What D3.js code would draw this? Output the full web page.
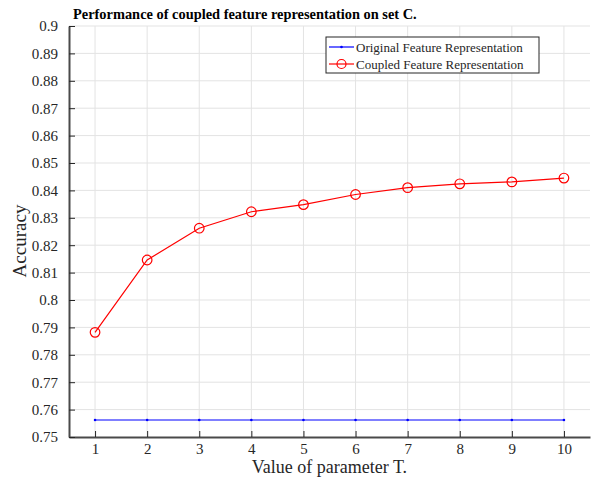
<!DOCTYPE html>
<html>
<head>
<meta charset="utf-8">
<script src="https://cdn.jsdelivr.net/npm/d3@7"></script>
<style>
  body { margin: 0; background: #fff; }
  svg text { font-family: "Liberation Serif", "DejaVu Serif", serif; }
</style>
</head>
<body>
<div id="chart"></div>
<script>
// data
const tValues = [1, 2, 3, 4, 5, 6, 7, 8, 9, 10];
const originalAcc = [0.7562, 0.7562, 0.7562, 0.7562, 0.7562, 0.7562, 0.7562, 0.7562, 0.7562, 0.7562];
const coupledAcc = [0.7882, 0.8146, 0.8262, 0.8322, 0.8348, 0.8385, 0.8410, 0.8424, 0.8431, 0.8445];
const yTicks = d3.range(0.75, 0.9001, 0.01);
const seriesNames = ["Original Feature Representation", "Coupled Feature Representation"];

const W = 600, H = 477;
const svg = d3.select("#chart").append("svg").attr("width", W).attr("height", H);
const FONT = "Liberation Serif";

const x = d3.scaleLinear().domain([0.5, 10.5]).range([69, 590]);
const y = d3.scaleLinear().domain([0.75, 0.9]).range([437, 26]);

// grid
svg.append("g").selectAll("line").data(tValues).join("line")
  .attr("x1", d => x(d)).attr("x2", d => x(d)).attr("y1", y(0.75)).attr("y2", y(0.9))
  .attr("stroke", "#e3e3e3").attr("stroke-width", 1);
svg.append("g").selectAll("line").data(yTicks.slice(1)).join("line")
  .attr("x1", x(0.5)).attr("x2", x(10.5)).attr("y1", d => y(d)).attr("y2", d => y(d))
  .attr("stroke", "#e3e3e3").attr("stroke-width", 1);

// axes (ticks point inward)
const xAxis = svg.append("g").attr("transform", `translate(0,${y(0.75)})`)
  .call(d3.axisBottom(x).tickValues(tValues).tickSizeInner(-6).tickSizeOuter(0).tickPadding(6));
const yAxis = svg.append("g").attr("transform", `translate(${x(0.5)},0)`)
  .call(d3.axisLeft(y).tickValues(yTicks).tickFormat(d => d3.format(".2~f")(d)).tickSizeInner(-6).tickSizeOuter(0).tickPadding(11));
[xAxis, yAxis].forEach(a => {
  a.select(".domain").attr("stroke", "#4a4a4a").attr("stroke-width", 2);
  a.selectAll(".tick line").attr("stroke", "#262626");
  a.selectAll("text").attr("fill", "#262626").attr("font-size", 15).attr("font-family", FONT);
});

// series
const line = d3.line().x((d, i) => x(tValues[i])).y(d => y(d));
svg.append("path").datum(originalAcc).attr("d", line)
  .attr("fill", "none").attr("stroke", "#0000ff").attr("stroke-width", 1.2);
svg.append("g").selectAll("circle").data(originalAcc).join("circle")
  .attr("cx", (d, i) => x(tValues[i])).attr("cy", d => y(d)).attr("r", 1.3).attr("fill", "#0000ff");

svg.append("path").datum(coupledAcc).attr("d", line)
  .attr("fill", "none").attr("stroke", "#ff0000").attr("stroke-width", 1.2);
svg.append("g").selectAll("circle").data(coupledAcc).join("circle")
  .attr("cx", (d, i) => x(tValues[i])).attr("cy", d => y(d)).attr("r", 4.8)
  .attr("fill", "none").attr("stroke", "#ff0000").attr("stroke-width", 1.2);

// title and axis labels
svg.append("text").attr("x", 73).attr("y", 19).attr("font-weight", "bold").attr("font-size", 14.4)
  .attr("font-family", FONT).attr("fill", "#000").text("Performance of coupled feature representation on set C.");
svg.append("text").attr("x", (x(0.5) + x(10.5)) / 2).attr("y", 473).attr("text-anchor", "middle")
  .attr("font-size", 18).attr("font-family", FONT).attr("fill", "#262626").text("Value of parameter T.");
svg.append("text").attr("transform", `translate(26,${241}) rotate(-90)`).attr("text-anchor", "middle")
  .attr("font-size", 19).attr("font-family", FONT).attr("fill", "#262626").text("Accuracy");

// legend
const lg = svg.append("g").attr("transform", "translate(326,37)");
lg.append("rect").attr("width", 213).attr("height", 36).attr("fill", "#fff").attr("stroke", "#262626").attr("stroke-width", 1);
const colors = ["#0000ff", "#ff0000"];
seriesNames.forEach((name, i) => {
  const yy = 10 + i * 17;
  lg.append("line").attr("x1", 3).attr("x2", 28).attr("y1", yy).attr("y2", yy)
    .attr("stroke", colors[i]).attr("stroke-width", 1.2);
  if (i === 0) {
    lg.append("circle").attr("cx", 15.5).attr("cy", yy).attr("r", 1.3).attr("fill", colors[i]);
  } else {
    lg.append("circle").attr("cx", 15.5).attr("cy", yy).attr("r", 4.5).attr("fill", "none")
      .attr("stroke", colors[i]).attr("stroke-width", 1.2);
  }
  lg.append("text").attr("x", 30).attr("y", yy + 4.5).attr("font-size", 13).attr("font-family", FONT)
    .attr("fill", "#262626").text(name);
});
</script>
</body>
</html>
